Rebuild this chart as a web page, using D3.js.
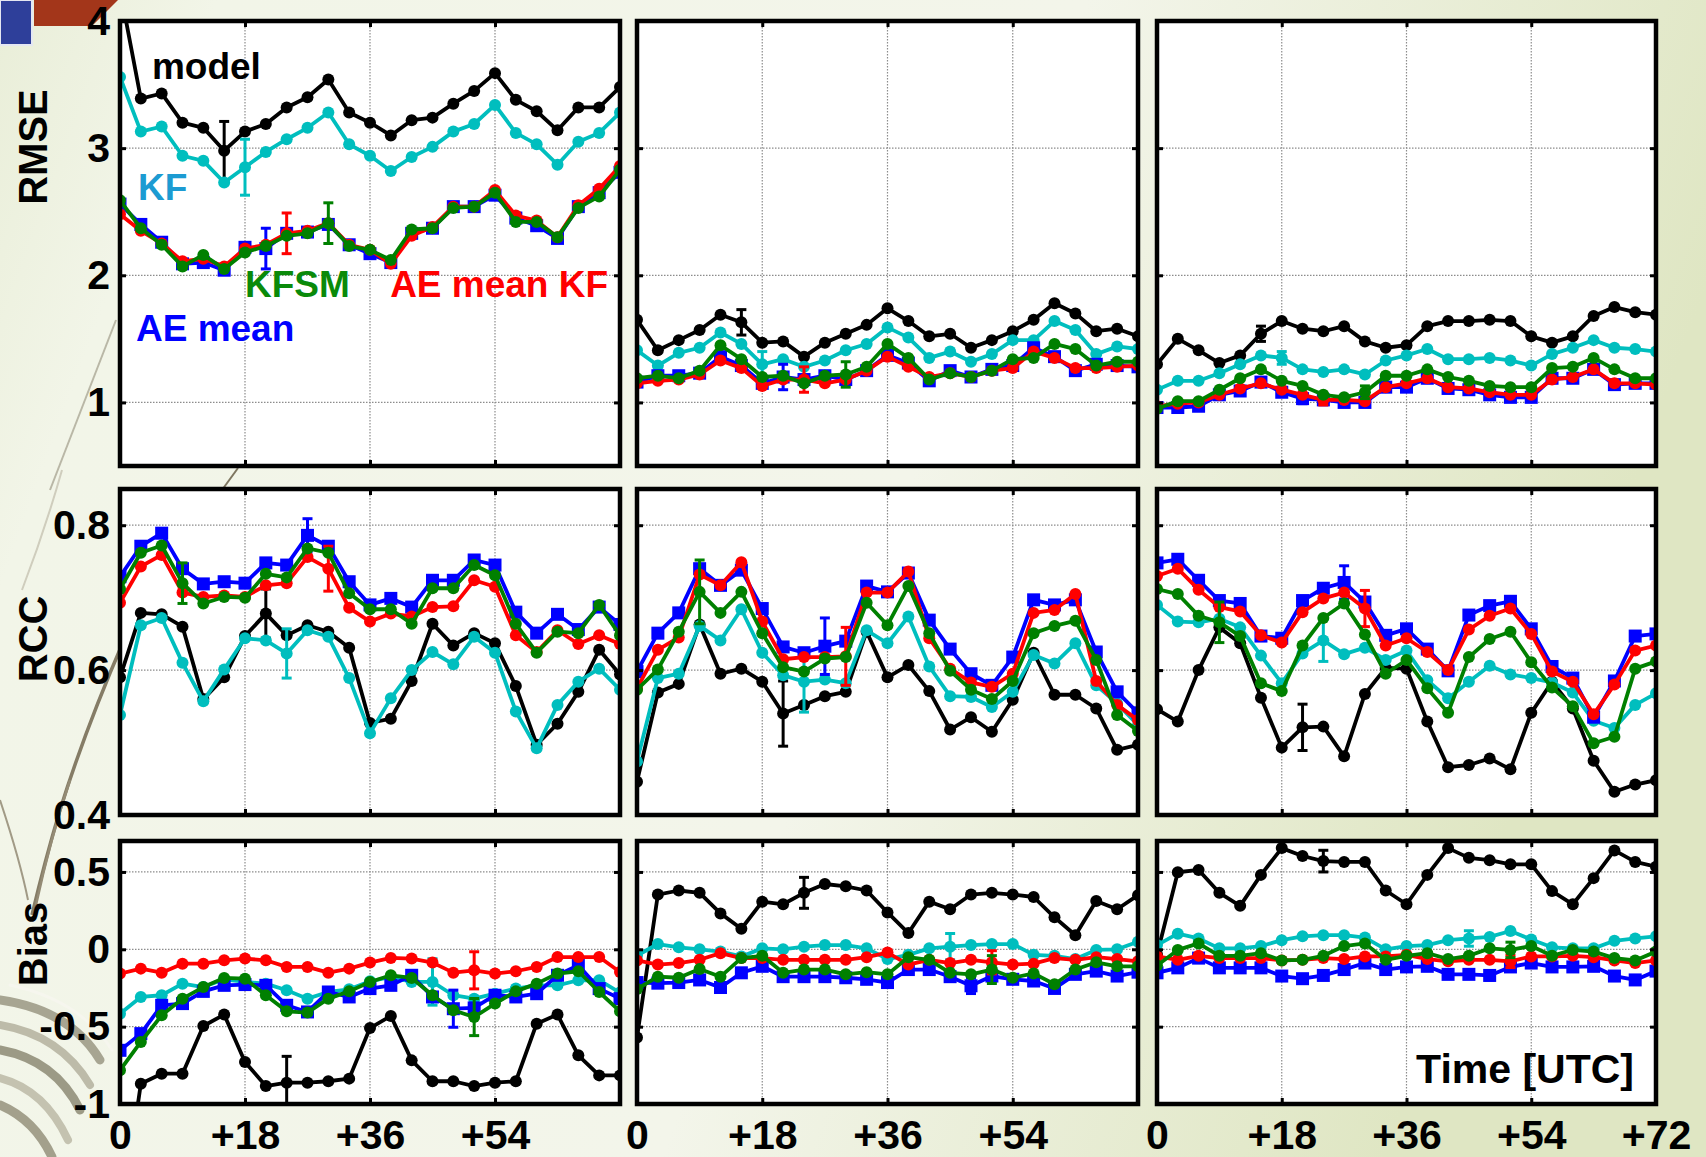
<!DOCTYPE html>
<html>
<head>
<meta charset="utf-8">
<script src="https://cdn.jsdelivr.net/npm/d3@7"></script>
<style>
  html, body { margin: 0; padding: 0; background: #eef1e0; }
  svg { display: block; }
  text { font-family: "Liberation Sans", Arial, sans-serif; font-weight: bold; }
</style>
</head>
<body>
<svg id="chart" width="1706" height="1157"></svg>
<script>
// Forecast lead times (hours after initialisation)
const leadHours = [0, 3, 6, 9, 12, 15, 18, 21, 24, 27, 30, 33, 36, 39, 42, 45, 48, 51, 54, 57, 60, 63, 66, 69, 72];

// Series: model, KF, AE mean, AE mean KF, KFSM — one row per region (column of panels)
const seriesNames = ["model", "KF", "AE mean", "AE mean KF", "KFSM"];

// ---------- RMSE ----------
const rmseModel = [
  [4.25, 3.39, 3.43, 3.20, 3.16, 2.98, 3.13, 3.19, 3.32, 3.40, 3.54, 3.28, 3.20, 3.10, 3.22, 3.24, 3.35, 3.45, 3.59, 3.38, 3.29, 3.14, 3.32, 3.32, 3.48],
  [1.65, 1.41, 1.49, 1.57, 1.69, 1.63, 1.47, 1.48, 1.36, 1.47, 1.54, 1.61, 1.74, 1.64, 1.52, 1.54, 1.43, 1.49, 1.56, 1.65, 1.78, 1.70, 1.56, 1.58, 1.52],
  [1.30, 1.50, 1.41, 1.31, 1.37, 1.54, 1.64, 1.58, 1.56, 1.60, 1.48, 1.43, 1.45, 1.60, 1.64, 1.64, 1.65, 1.64, 1.52, 1.47, 1.52, 1.68, 1.75, 1.71, 1.69]
];
const rmseKF = [
  [3.56, 3.13, 3.17, 2.94, 2.90, 2.73, 2.85, 2.97, 3.07, 3.16, 3.28, 3.03, 2.94, 2.82, 2.93, 3.01, 3.13, 3.19, 3.34, 3.12, 3.03, 2.87, 3.05, 3.12, 3.28],
  [1.41, 1.29, 1.39, 1.43, 1.55, 1.46, 1.30, 1.34, 1.28, 1.33, 1.41, 1.46, 1.59, 1.51, 1.35, 1.40, 1.32, 1.38, 1.49, 1.49, 1.64, 1.57, 1.38, 1.44, 1.42],
  [1.10, 1.17, 1.17, 1.23, 1.30, 1.37, 1.35, 1.26, 1.24, 1.26, 1.22, 1.33, 1.37, 1.42, 1.34, 1.34, 1.35, 1.33, 1.29, 1.38, 1.43, 1.49, 1.43, 1.42, 1.40]
];
const rmseAE = [
  [2.56, 2.40, 2.26, 2.09, 2.10, 2.04, 2.22, 2.21, 2.33, 2.34, 2.40, 2.24, 2.17, 2.10, 2.33, 2.37, 2.54, 2.54, 2.63, 2.45, 2.39, 2.29, 2.54, 2.65, 2.81],
  [1.16, 1.21, 1.21, 1.23, 1.36, 1.29, 1.15, 1.20, 1.18, 1.21, 1.18, 1.25, 1.37, 1.31, 1.17, 1.25, 1.20, 1.26, 1.29, 1.43, 1.36, 1.25, 1.30, 1.29, 1.28],
  [0.96, 0.96, 0.97, 1.06, 1.09, 1.16, 1.08, 1.03, 1.02, 1.00, 1.00, 1.12, 1.12, 1.19, 1.11, 1.10, 1.06, 1.04, 1.04, 1.19, 1.19, 1.26, 1.14, 1.15, 1.15]
];
const rmseAEKF = [
  [2.48, 2.35, 2.25, 2.11, 2.13, 2.07, 2.21, 2.24, 2.33, 2.35, 2.41, 2.24, 2.20, 2.09, 2.31, 2.38, 2.54, 2.54, 2.67, 2.47, 2.43, 2.30, 2.55, 2.68, 2.86],
  [1.15, 1.17, 1.18, 1.22, 1.33, 1.27, 1.13, 1.18, 1.18, 1.15, 1.18, 1.25, 1.36, 1.28, 1.20, 1.23, 1.20, 1.25, 1.27, 1.40, 1.35, 1.27, 1.27, 1.28, 1.29],
  [0.97, 0.99, 1.00, 1.06, 1.11, 1.15, 1.10, 1.06, 1.02, 1.02, 1.01, 1.12, 1.15, 1.19, 1.12, 1.11, 1.08, 1.06, 1.06, 1.18, 1.20, 1.26, 1.15, 1.15, 1.14]
];
const rmseKFSM = [
  [2.59, 2.37, 2.24, 2.07, 2.16, 2.05, 2.18, 2.23, 2.31, 2.33, 2.41, 2.23, 2.20, 2.12, 2.36, 2.37, 2.53, 2.54, 2.65, 2.42, 2.42, 2.30, 2.53, 2.62, 2.83],
  [1.19, 1.21, 1.19, 1.25, 1.45, 1.34, 1.20, 1.21, 1.15, 1.21, 1.22, 1.28, 1.46, 1.35, 1.18, 1.23, 1.20, 1.25, 1.34, 1.35, 1.46, 1.42, 1.29, 1.32, 1.32],
  [0.95, 1.01, 1.01, 1.10, 1.19, 1.26, 1.17, 1.13, 1.06, 1.04, 1.08, 1.21, 1.21, 1.26, 1.20, 1.17, 1.13, 1.12, 1.12, 1.27, 1.28, 1.35, 1.26, 1.19, 1.19]
];

// ---------- RCC ----------
const rccModel = [
  [0.590, 0.679, 0.677, 0.660, 0.560, 0.590, 0.647, 0.678, 0.648, 0.662, 0.653, 0.631, 0.527, 0.533, 0.585, 0.664, 0.634, 0.651, 0.637, 0.578, 0.497, 0.526, 0.570, 0.628, 0.594],
  [0.446, 0.569, 0.581, 0.663, 0.595, 0.602, 0.584, 0.540, 0.552, 0.564, 0.570, 0.653, 0.590, 0.607, 0.571, 0.518, 0.535, 0.515, 0.559, 0.624, 0.566, 0.566, 0.547, 0.490, 0.497],
  [0.546, 0.529, 0.600, 0.659, 0.637, 0.562, 0.493, 0.521, 0.522, 0.481, 0.567, 0.603, 0.602, 0.529, 0.466, 0.469, 0.478, 0.463, 0.541, 0.584, 0.547, 0.475, 0.432, 0.442, 0.448]
];
const rccKF = [
  [0.538, 0.662, 0.672, 0.610, 0.557, 0.601, 0.644, 0.641, 0.623, 0.655, 0.646, 0.589, 0.513, 0.561, 0.600, 0.625, 0.608, 0.646, 0.624, 0.543, 0.492, 0.552, 0.584, 0.602, 0.573],
  [0.474, 0.589, 0.595, 0.661, 0.641, 0.684, 0.624, 0.593, 0.584, 0.587, 0.582, 0.655, 0.637, 0.674, 0.605, 0.564, 0.563, 0.549, 0.570, 0.621, 0.609, 0.637, 0.579, 0.554, 0.524],
  [0.690, 0.667, 0.666, 0.671, 0.659, 0.620, 0.582, 0.623, 0.641, 0.622, 0.631, 0.614, 0.627, 0.586, 0.561, 0.584, 0.606, 0.594, 0.589, 0.583, 0.569, 0.530, 0.520, 0.552, 0.568]
];
const rccAE = [
  [0.729, 0.771, 0.789, 0.740, 0.719, 0.722, 0.720, 0.748, 0.745, 0.786, 0.771, 0.722, 0.690, 0.699, 0.687, 0.724, 0.724, 0.752, 0.745, 0.680, 0.651, 0.677, 0.656, 0.687, 0.663],
  [0.598, 0.651, 0.679, 0.740, 0.717, 0.738, 0.685, 0.632, 0.624, 0.633, 0.640, 0.716, 0.708, 0.734, 0.669, 0.629, 0.595, 0.579, 0.618, 0.697, 0.690, 0.697, 0.625, 0.570, 0.541],
  [0.748, 0.753, 0.724, 0.696, 0.692, 0.647, 0.644, 0.696, 0.713, 0.721, 0.694, 0.648, 0.657, 0.629, 0.599, 0.676, 0.689, 0.695, 0.657, 0.605, 0.589, 0.535, 0.585, 0.647, 0.650]
];
const rccAEKF = [
  [0.693, 0.743, 0.759, 0.707, 0.701, 0.703, 0.701, 0.717, 0.720, 0.756, 0.740, 0.686, 0.667, 0.678, 0.674, 0.687, 0.688, 0.724, 0.715, 0.648, 0.625, 0.655, 0.636, 0.648, 0.636],
  [0.575, 0.628, 0.645, 0.732, 0.717, 0.749, 0.667, 0.615, 0.618, 0.618, 0.619, 0.707, 0.707, 0.736, 0.644, 0.602, 0.583, 0.577, 0.595, 0.679, 0.683, 0.705, 0.585, 0.552, 0.531],
  [0.730, 0.740, 0.711, 0.687, 0.681, 0.648, 0.638, 0.680, 0.699, 0.707, 0.685, 0.634, 0.644, 0.625, 0.600, 0.656, 0.675, 0.685, 0.650, 0.598, 0.584, 0.539, 0.580, 0.627, 0.634]
];
const rccKFSM = [
  [0.712, 0.762, 0.772, 0.720, 0.692, 0.701, 0.700, 0.733, 0.728, 0.768, 0.762, 0.706, 0.684, 0.684, 0.664, 0.713, 0.713, 0.745, 0.731, 0.664, 0.624, 0.653, 0.651, 0.690, 0.648],
  [0.573, 0.601, 0.653, 0.708, 0.679, 0.708, 0.651, 0.604, 0.598, 0.616, 0.618, 0.693, 0.662, 0.716, 0.651, 0.599, 0.573, 0.560, 0.585, 0.651, 0.661, 0.668, 0.614, 0.538, 0.516],
  [0.712, 0.705, 0.675, 0.666, 0.647, 0.582, 0.571, 0.634, 0.672, 0.692, 0.649, 0.595, 0.614, 0.575, 0.541, 0.618, 0.643, 0.653, 0.611, 0.576, 0.550, 0.499, 0.508, 0.602, 0.612]
];

// ---------- Bias ----------
const biasModel = [
  [-1.80, -0.869, -0.804, -0.804, -0.496, -0.422, -0.728, -0.884, -0.862, -0.862, -0.853, -0.836, -0.509, -0.431, -0.718, -0.853, -0.853, -0.884, -0.862, -0.853, -0.481, -0.422, -0.685, -0.815, -0.815],
  [-0.570, 0.354, 0.380, 0.365, 0.232, 0.133, 0.308, 0.291, 0.365, 0.422, 0.407, 0.380, 0.238, 0.105, 0.308, 0.259, 0.354, 0.365, 0.354, 0.338, 0.207, 0.091, 0.312, 0.259, 0.350],
  [-0.036, 0.498, 0.513, 0.365, 0.281, 0.481, 0.654, 0.603, 0.570, 0.565, 0.565, 0.380, 0.291, 0.481, 0.654, 0.591, 0.576, 0.549, 0.549, 0.376, 0.291, 0.460, 0.639, 0.565, 0.534]
];
const biasKF = [
  [-0.416, -0.308, -0.297, -0.222, -0.244, -0.194, -0.211, -0.222, -0.265, -0.319, -0.276, -0.259, -0.207, -0.179, -0.211, -0.211, -0.297, -0.319, -0.287, -0.254, -0.233, -0.233, -0.200, -0.200, -0.280],
  [-0.040, 0.034, 0.013, 0.000, -0.015, -0.046, 0.006, 0.000, 0.017, 0.027, 0.027, 0.006, -0.063, -0.036, 0.006, 0.017, 0.027, 0.034, 0.034, -0.036, -0.042, -0.063, -0.004, 0.000, 0.049],
  [0.027, 0.101, 0.070, 0.006, 0.006, 0.021, 0.059, 0.084, 0.091, 0.091, 0.076, 0.000, 0.021, 0.027, 0.059, 0.070, 0.080, 0.118, 0.063, 0.013, 0.006, 0.006, 0.055, 0.070, 0.084]
];
const biasAE = [
  [-0.653, -0.545, -0.362, -0.351, -0.272, -0.233, -0.228, -0.233, -0.362, -0.405, -0.276, -0.308, -0.254, -0.233, -0.168, -0.308, -0.384, -0.379, -0.297, -0.308, -0.287, -0.168, -0.103, -0.254, -0.319],
  [-0.215, -0.219, -0.215, -0.198, -0.247, -0.152, -0.110, -0.177, -0.177, -0.177, -0.184, -0.194, -0.215, -0.131, -0.131, -0.177, -0.236, -0.173, -0.194, -0.205, -0.253, -0.162, -0.141, -0.173, -0.148],
  [-0.152, -0.120, -0.057, -0.120, -0.120, -0.120, -0.173, -0.190, -0.169, -0.131, -0.089, -0.131, -0.114, -0.110, -0.162, -0.162, -0.169, -0.114, -0.089, -0.114, -0.114, -0.110, -0.173, -0.198, -0.141]
];
const biasAEKF = [
  [-0.157, -0.125, -0.151, -0.093, -0.093, -0.071, -0.060, -0.071, -0.114, -0.114, -0.151, -0.125, -0.086, -0.056, -0.060, -0.086, -0.151, -0.136, -0.157, -0.142, -0.114, -0.050, -0.050, -0.050, -0.147],
  [-0.072, -0.099, -0.089, -0.068, -0.025, -0.057, -0.057, -0.068, -0.068, -0.068, -0.068, -0.051, -0.021, -0.099, -0.068, -0.089, -0.068, -0.084, -0.099, -0.093, -0.057, -0.068, -0.051, -0.063, -0.078],
  [-0.046, -0.068, -0.042, -0.057, -0.057, -0.057, -0.072, -0.068, -0.057, -0.063, -0.046, -0.046, -0.036, -0.063, -0.078, -0.068, -0.068, -0.078, -0.046, -0.046, -0.042, -0.051, -0.072, -0.089, -0.072]
];
const biasKFSM = [
  [-0.782, -0.599, -0.427, -0.319, -0.244, -0.185, -0.190, -0.297, -0.401, -0.409, -0.319, -0.272, -0.211, -0.168, -0.185, -0.297, -0.394, -0.438, -0.351, -0.272, -0.222, -0.157, -0.142, -0.276, -0.401],
  [-0.257, -0.177, -0.184, -0.127, -0.177, -0.057, -0.042, -0.152, -0.131, -0.131, -0.162, -0.148, -0.162, -0.051, -0.068, -0.152, -0.162, -0.131, -0.184, -0.156, -0.226, -0.131, -0.084, -0.110, -0.110],
  [-0.105, -0.004, 0.038, -0.042, -0.042, -0.025, -0.072, -0.068, -0.042, 0.021, 0.038, -0.068, -0.042, -0.025, -0.063, -0.042, 0.006, -0.004, 0.021, -0.042, -0.004, -0.015, -0.057, -0.072, -0.015]
];

// Error bars: [region column, series index, lead-time index, half width]
const rmseErrBars = [
  [0, 0, 5, 0.23], [0, 1, 6, 0.22], [0, 2, 7, 0.16], [0, 3, 8, 0.16], [0, 4, 10, 0.16],
  [1, 0, 5, 0.10], [1, 1, 6, 0.10], [1, 2, 7, 0.10], [1, 3, 8, 0.10], [1, 4, 10, 0.10],
  [2, 0, 5, 0.06], [2, 1, 6, 0.05], [2, 2, 7, 0.04], [2, 3, 8, 0.04], [2, 4, 10, 0.05]
];
const rccErrBars = [
  [0, 0, 7, 0.034], [0, 1, 8, 0.034], [0, 2, 9, 0.023], [0, 3, 10, 0.031], [0, 4, 3, 0.028],
  [1, 0, 7, 0.045], [1, 1, 8, 0.042], [1, 2, 9, 0.039], [1, 3, 10, 0.040], [1, 4, 3, 0.044],
  [2, 0, 7, 0.032], [2, 1, 8, 0.029], [2, 2, 9, 0.023], [2, 3, 10, 0.025], [2, 4, 3, 0.028]
];
const biasErrBars = [
  [0, 0, 8, 0.17], [0, 1, 15, 0.15], [0, 2, 16, 0.12], [0, 3, 17, 0.12], [0, 4, 17, 0.12],
  [1, 0, 8, 0.10], [1, 1, 15, 0.085], [1, 2, 16, 0.05], [1, 3, 17, 0.075], [1, 4, 17, 0.09],
  [2, 0, 8, 0.07], [2, 1, 15, 0.05], [2, 2, 16, 0.03], [2, 3, 17, 0.04], [2, 4, 17, 0.05]
];

// Tick values
const rmseTicks = [1, 2, 3, 4];
const rccTicks = [0.4, 0.6, 0.8];
const biasTicks = [-1, -0.5, 0, 0.5];
const xTicksInner = [0, 18, 36, 54];
const xTicksLast = [0, 18, 36, 54, 72];
const xGrid = [18, 36, 54];

// ---------------------------------------------------------------
const W = 1706, H = 1157;
const svg = d3.select("#chart");
const defs = svg.append("defs");

// slide background
const bgGrad = defs.append("linearGradient").attr("id", "bgGrad")
  .attr("x1", "0").attr("y1", "0").attr("x2", "1").attr("y2", "0.25");
bgGrad.append("stop").attr("offset", "0").attr("stop-color", "#e9eed8");
bgGrad.append("stop").attr("offset", "0.12").attr("stop-color", "#f2f5e8");
bgGrad.append("stop").attr("offset", "0.6").attr("stop-color", "#f3f5ea");
bgGrad.append("stop").attr("offset", "1").attr("stop-color", "#dfe6c3");
svg.append("rect").attr("width", W).attr("height", H).attr("fill", "url(#bgGrad)");

// slide ornaments on the left edge
const orn = svg.append("g").attr("fill", "none");
orn.append("path").attr("d", "M 116 320 Q 85 400 50 490").attr("stroke", "#b9b7a6").attr("stroke-width", 2);
orn.append("path").attr("d", "M 62 470 Q 45 530 22 590").attr("stroke", "#cfcdbd").attr("stroke-width", 2);
orn.append("path").attr("d", "M 238 468 L 222 490").attr("stroke", "#7e7660").attr("stroke-width", 2);
orn.append("path").attr("d", "M 124 640 Q 85 730 60 810 Q 45 860 32 915").attr("stroke", "#857c66").attr("stroke-width", 3.5);
orn.append("path").attr("d", "M 70 780 Q 50 840 36 905").attr("stroke", "#948b75").attr("stroke-width", 2.5);
orn.append("path").attr("d", "M 0 800 Q 20 860 28 900").attr("stroke", "#a19a86").attr("stroke-width", 2);
const swirl = [
  { d: "M 0 1000 Q 70 1010 100 1060", c: "#a7a592", w: 9 },
  { d: "M 0 1025 Q 60 1035 90 1085", c: "#bdbba9", w: 8 },
  { d: "M 0 1050 Q 55 1060 80 1110", c: "#9c9a86", w: 9 },
  { d: "M 0 1078 Q 45 1090 68 1140", c: "#c4c2b0", w: 8 },
  { d: "M 0 1105 Q 35 1120 52 1157", c: "#a3a08c", w: 9 },
  { d: "M 10 985 Q 80 1000 112 1050", c: "#f6f6ee", w: 3 }
];
swirl.forEach(s => orn.append("path").attr("d", s.d).attr("stroke", s.c).attr("stroke-width", s.w).attr("stroke-linecap", "round"));
svg.append("rect").attr("x", 0).attr("y", 0).attr("width", 32).attr("height", 45).attr("fill", "#2e3f9a").attr("stroke", "#e4e7f2").attr("stroke-width", 2);
svg.append("path").attr("d", "M 34 0 L 118 0 L 92 26 L 34 26 Z").attr("fill", "#a3361a");

// ---------------------------------------------------------------
const seriesStyle = [
  { color: "#000000", shape: "circle" },
  { color: "#00bebe", shape: "circle" },
  { color: "#0000ff", shape: "square" },
  { color: "#ff0000", shape: "circle" },
  { color: "#008000", shape: "circle" }
];

const panelCols = [[120, 620], [637, 1138], [1157, 1656]];

const metrics = [
  { title: "RMSE", series: [rmseModel, rmseKF, rmseAE, rmseAEKF, rmseKFSM], errs: rmseErrBars,
    ticks: rmseTicks, domain: [0.5, 4], range: [466, 21], titleY: 147 },
  { title: "RCC", series: [rccModel, rccKF, rccAE, rccAEKF, rccKFSM], errs: rccErrBars,
    ticks: rccTicks, domain: [0.4, 0.85], range: [815, 489], titleY: 639 },
  { title: "Bias", series: [biasModel, biasKF, biasAE, biasAEKF, biasKFSM], errs: biasErrBars,
    ticks: biasTicks, domain: [-1, 0.7], range: [1104, 841], titleY: 944 }
];

const fmtY = d => String(d);
const fmtX = d => (d === 0 ? "0" : "+" + d);

metrics.forEach((m, r) => {
  const [yb, yt] = m.range;
  panelCols.forEach((cols, c) => {
    const [x0, x1] = cols;
    const x = d3.scaleLinear().domain([0, 72]).range([x0, x1]);
    const y = d3.scaleLinear().domain(m.domain).range(m.range);
    const g = svg.append("g");
    const clipId = `clip-${r}-${c}`;
    defs.append("clipPath").attr("id", clipId)
      .append("rect").attr("x", x0).attr("y", yt).attr("width", x1 - x0).attr("height", yb - yt);

    g.append("rect").attr("x", x0).attr("y", yt).attr("width", x1 - x0).attr("height", yb - yt).attr("fill", "#ffffff");

    // dotted grid
    const grid = g.append("g").attr("stroke", "#8c8c8c").attr("stroke-width", 1.2).attr("stroke-dasharray", "1.5,1.5");
    xGrid.forEach(h => grid.append("line").attr("x1", x(h)).attr("x2", x(h)).attr("y1", yt).attr("y2", yb));
    m.ticks.filter(t => t > m.domain[0] && t < m.domain[1])
      .forEach(t => grid.append("line").attr("x1", x0).attr("x2", x1).attr("y1", y(t)).attr("y2", y(t)));

    const plot = g.append("g").attr("clip-path", `url(#${clipId})`);
    m.series.forEach((ser, s) => {
      const st = seriesStyle[s];
      const pts = leadHours.map((h, i) => ({ h: h, v: ser[c][i] }));
      const line = d3.line().x(d => x(d.h)).y(d => y(d.v));
      plot.append("path").datum(pts).attr("d", line)
        .attr("fill", "none").attr("stroke", st.color).attr("stroke-width", 3.8).attr("stroke-linejoin", "round");
      if (st.shape === "square") {
        plot.selectAll(null).data(pts).enter().append("rect")
          .attr("x", d => x(d.h) - 6.5).attr("y", d => y(d.v) - 6.5).attr("width", 13).attr("height", 13)
          .attr("fill", st.color);
      } else {
        plot.selectAll(null).data(pts).enter().append("circle")
          .attr("cx", d => x(d.h)).attr("cy", d => y(d.v)).attr("r", 6).attr("fill", st.color);
      }
      // error bars of this series in this panel
      m.errs.filter(e => e[0] === c && e[1] === s).forEach(e => {
        const hx = x(leadHours[e[2]]);
        const v = ser[c][e[2]];
        const eb = plot.append("g").attr("stroke", st.color).attr("stroke-width", 3);
        eb.append("line").attr("x1", hx).attr("x2", hx).attr("y1", y(v - e[3])).attr("y2", y(v + e[3]));
        eb.append("line").attr("x1", hx - 5).attr("x2", hx + 5).attr("y1", y(v - e[3])).attr("y2", y(v - e[3]));
        eb.append("line").attr("x1", hx - 5).attr("x2", hx + 5).attr("y1", y(v + e[3])).attr("y2", y(v + e[3]));
      });
    });

    // inward ticks on all four sides
    const styleAxis = sel => {
      sel.select(".domain").remove();
      sel.selectAll(".tick line").attr("stroke", "#000").attr("stroke-width", 3);
      sel.selectAll(".tick text").attr("fill", "#000").style("font-size", "41px").style("font-weight", "bold")
        .style("font-family", '"Liberation Sans", Arial, sans-serif');
    };
    const left = d3.axisLeft(y).tickValues(m.ticks).tickSize(-6).tickPadding(10)
      .tickFormat(c === 0 ? fmtY : () => "");
    g.append("g").attr("transform", `translate(${x0},0)`).call(left).call(styleAxis);
    const right = d3.axisRight(y).tickValues(m.ticks).tickSize(-6).tickFormat(() => "");
    g.append("g").attr("transform", `translate(${x1},0)`).call(right).call(styleAxis);
    const xt = c === 2 ? xTicksLast : xTicksInner;
    const top = d3.axisTop(x).tickValues(xt).tickSize(-6).tickFormat(() => "");
    g.append("g").attr("transform", `translate(0,${yt})`).call(top).call(styleAxis);
    const bottom = d3.axisBottom(x).tickValues(xt).tickSize(-6).tickPadding(16)
      .tickFormat(r === 2 ? fmtX : () => "");
    g.append("g").attr("transform", `translate(0,${yb})`).call(bottom).call(styleAxis);

    // frame
    g.append("rect").attr("x", x0).attr("y", yt).attr("width", x1 - x0).attr("height", yb - yt)
      .attr("fill", "none").attr("stroke", "#000").attr("stroke-width", 4.5);

    // in-panel legend labels (first panel only)
    if (r === 0 && c === 0) {
      const labels = [
        { text: "model", h: 4.6, v: 3.54, color: "#000000" },
        { text: "KF", h: 2.6, v: 2.59, color: "#1c9bd2" },
        { text: "KFSM", h: 18.0, v: 1.83, color: "#0a8a0a" },
        { text: "AE mean KF", h: 38.9, v: 1.83, color: "#ff0000" },
        { text: "AE mean", h: 2.3, v: 1.48, color: "#0000ff" }
      ];
      labels.forEach(l => g.append("text").attr("x", x(l.h)).attr("y", y(l.v))
        .attr("fill", l.color).style("font-size", "37px").text(l.text));
    }
    if (r === 2 && c === 2) {
      g.append("text").attr("x", 1634).attr("y", 1083).attr("text-anchor", "end")
        .attr("fill", "#000").style("font-size", "41px").text("Time [UTC]");
    }
  });

  // row title
  svg.append("text").attr("transform", `translate(47,${m.titleY}) rotate(-90)`)
    .attr("text-anchor", "middle").attr("fill", "#000").style("font-size", "40px").text(m.title);
});
</script>
</body>
</html>
